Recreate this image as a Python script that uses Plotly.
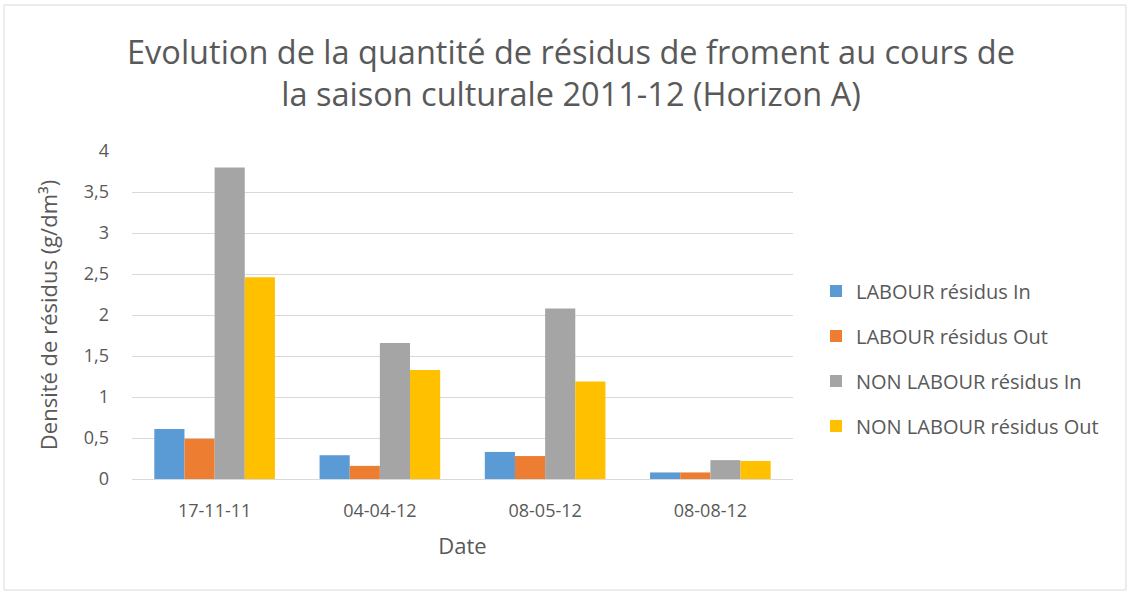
import plotly.graph_objects as go

dates = ["17-11-11", "04-04-12", "08-05-12", "08-08-12"]
labour_in = [0.61, 0.29, 0.33, 0.08]
labour_out = [0.49, 0.16, 0.28, 0.08]
non_labour_in = [3.80, 1.66, 2.08, 0.23]
non_labour_out = [2.46, 1.33, 1.19, 0.22]

series = [
    ("LABOUR résidus In", labour_in, "#5B9BD5"),
    ("LABOUR résidus Out", labour_out, "#ED7D31"),
    ("NON LABOUR résidus In", non_labour_in, "#A5A5A5"),
    ("NON LABOUR résidus Out", non_labour_out, "#FFC000"),
]

font_fam = "Open Sans, Carlito, Liberation Sans, sans-serif"
text_col = "#595959"

fig = go.Figure()
for name, vals, col in series:
    fig.add_trace(go.Bar(x=dates, y=vals, name=name, legendgroup=name,
                         marker=dict(color=col, line=dict(width=0))))

W, H = 1130, 595
L, R, T, B = 132, 337, 151, 116
PW, PH = W - L - R, H - T - B

fig.update_layout(
    width=W, height=H,
    margin=dict(l=L, r=R, t=T, b=B),
    paper_bgcolor="white", plot_bgcolor="white",
    barmode="group", bargap=0.27, bargroupgap=0,
    font=dict(family=font_fam, color=text_col, size=17),
    title=dict(
        text="Evolution de la quantité de résidus de froment au cours de<br>la saison culturale 2011-12 (Horizon A)",
        x=571 / W, xanchor="center", yref="container", y=1 - 64 / H, yanchor="middle",
        font=dict(size=32.5, color=text_col, family=font_fam),
    ),
    xaxis=dict(
        type="category",
        title=dict(text="Date", font=dict(size=22), standoff=18),
        tickfont=dict(size=18), showline=True, linecolor="#d9d9d9", linewidth=1,
        ticks="", showgrid=False, ticklabelstandoff=15,
    ),
    yaxis=dict(
        title=dict(text="Densité de résidus (g/dm³)", font=dict(size=22), standoff=20),
        range=[0, 4], dtick=0.5, tickformat=".1~f",
        tickfont=dict(size=18), showgrid=True, gridcolor="#d9d9d9", gridwidth=1,
        zeroline=False, ticks="", ticklabelstandoff=22,
    ),
    separators=", ",
    legend=dict(
        x=(816 - L) / PW, xanchor="left", y=(479 - 358.5) / PH, yanchor="middle",
        font=dict(size=20), tracegroupgap=16, itemsizing="constant",
        bgcolor="rgba(0,0,0,0)",
    ),
    shapes=[dict(
        type="rect", xref="paper", yref="paper",
        x0=(4 - L) / PW, x1=(W - 4 - L) / PW,
        y0=-(B - 5) / PH, y1=1 + (T - 5) / PH,
        line=dict(color="#d9d9d9", width=1), fillcolor="rgba(0,0,0,0)", layer="below",
    )],
)

fig.write_html("out.html", config={"displayModeBar": False},
               post_script="document.body.style.margin='0';document.body.style.padding='0';")
